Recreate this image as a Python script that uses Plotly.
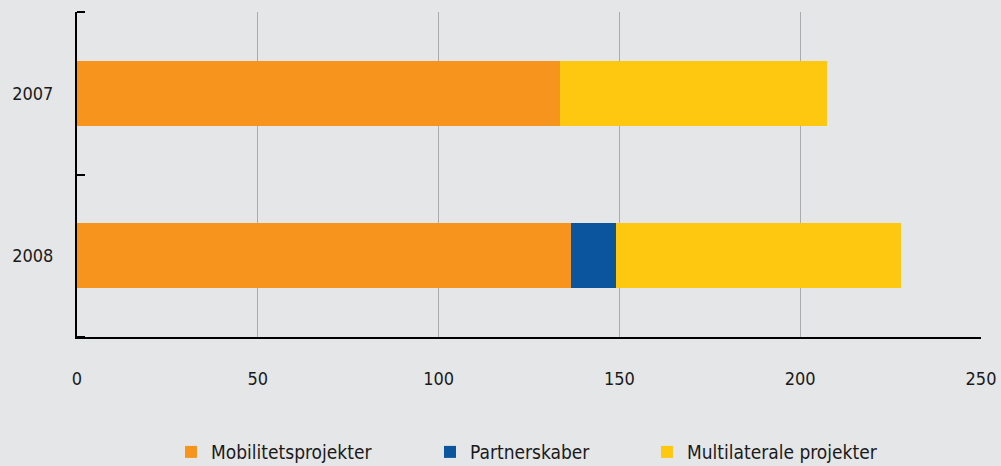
import plotly.graph_objects as go

years = ["2007", "2008"]
mobilitet = [133.6, 136.6]
partnerskaber = [0, 12.5]
multilaterale = [73.7, 78.9]
x_ticks = [0, 50, 100, 150, 200, 250]

series = [
    ("Mobilitetsprojekter", mobilitet, "#f7941d", "legend", 0.104),
    ("Partnerskaber", partnerskaber, "#0b559f", "legend2", 0.3905),
    ("Multilaterale projekter", multilaterale, "#fec710", "legend3", 0.6305),
]

font_family = "DejaVu Sans Condensed, Liberation Sans Narrow, sans-serif"
bg = "#e5e6e8"

ypos = list(range(len(years)))
boundaries = [p - 0.5 for p in ypos] + [ypos[-1] + 0.5]

fig = go.Figure()
legends = {}
for name, vals, color, leg, lx in series:
    fig.add_trace(go.Bar(
        y=ypos, x=vals, name=name, orientation="h", legend=leg,
        marker=dict(color=color, line=dict(width=0)),
    ))
    legends[leg] = dict(
        orientation="h", x=lx, xanchor="left", y=-0.354, yanchor="middle",
        font=dict(family=font_family, size=19, color="#1a1a1a"),
        bgcolor="rgba(0,0,0,0)", itemwidth=30, itemclick=False,
    )

fig.update_layout(
    barmode="stack",
    bargap=0.6,
    width=1001, height=466,
    paper_bgcolor=bg, plot_bgcolor=bg,
    margin=dict(l=77, r=20, t=12, b=129, autoexpand=False),
    font=dict(family=font_family, size=18, color="#1a1a1a"),
    showlegend=True,
    **legends,
    xaxis=dict(
        range=[0, 250], tickvals=x_ticks, ticktext=[str(v) for v in x_ticks],
        showgrid=True, gridcolor="#a9abae", gridwidth=1,
        zeroline=False, showline=True, linecolor="#000000", linewidth=2,
        ticks="", ticklabelstandoff=24, automargin=False,
    ),
    yaxis=dict(
        range=[ypos[-1] + 0.5, ypos[0] - 0.5],
        tickvals=ypos, ticktext=years, ticks="",
        showgrid=False, zeroline=False,
        showline=True, linecolor="#000000", linewidth=2,
        ticklabelstandoff=18, automargin=False,
        minor=dict(tickvals=boundaries, ticks="inside", ticklen=8,
                   tickcolor="#000000", tickwidth=2, showgrid=False),
    ),
)

fig.write_html(
    "out.html",
    config={"displayModeBar": False},
    post_script="document.body.style.margin='0';document.body.style.padding='0';",
)
